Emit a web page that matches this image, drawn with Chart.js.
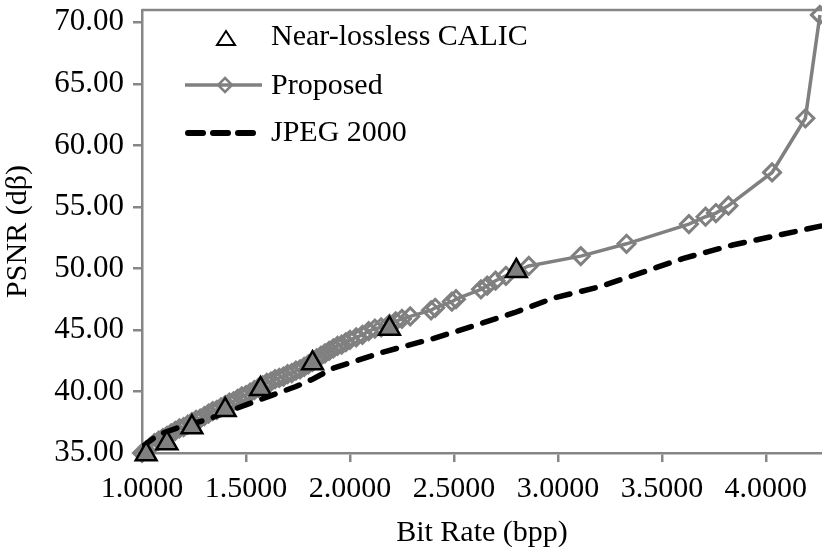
<!DOCTYPE html>
<html>
<head>
<meta charset="utf-8">
<title>PSNR vs Bit Rate</title>
<script src="https://cdn.jsdelivr.net/npm/chart.js@4.4.0/dist/chart.umd.min.js"></script>
<style>
  html, body { margin: 0; padding: 0; background: #fff; }
  #wrap { width: 822px; height: 552px; }
</style>
</head>
<body>
<div id="wrap"><canvas id="psnrChart" width="822" height="552"></canvas></div>
<script>
// DATA

const calicRate = [1.02, 1.12, 1.24, 1.40, 1.57, 1.82, 2.19, 2.80];
const calicPsnr = [34.9, 35.8, 37.1, 38.5, 40.2, 42.3, 45.1, 49.8];

const proposedRate = [1.00, 1.02, 1.04, 1.06, 1.08, 1.10, 1.12, 1.14, 1.16, 1.18,
  1.20, 1.22, 1.24, 1.26, 1.28, 1.30, 1.32, 1.34, 1.36, 1.38,
  1.40, 1.42, 1.44, 1.46, 1.48, 1.50, 1.52, 1.54, 1.56, 1.58,
  1.60, 1.62, 1.64, 1.66, 1.68, 1.70, 1.72, 1.74, 1.76, 1.78,
  1.80, 1.82, 1.84, 1.86, 1.88, 1.90, 1.92, 1.94, 1.96, 1.98,
  2.00, 2.03, 2.06, 2.09, 2.12, 2.15, 2.19, 2.22, 2.25, 2.29,
  2.39, 2.41, 2.49, 2.51, 2.63, 2.66, 2.70, 2.75, 2.86, 3.11,
  3.33, 3.63, 3.71, 3.76, 3.82, 4.03, 4.19, 4.26];
const proposedPsnr = [35.0, 35.2, 35.5, 35.8, 36.0, 36.2, 36.4, 36.6, 36.8, 37.0,
  37.1, 37.3, 37.5, 37.7, 37.8, 38.0, 38.2, 38.4, 38.5, 38.7,
  38.9, 39.1, 39.2, 39.4, 39.6, 39.7, 39.9, 40.1, 40.3, 40.5,
  40.7, 40.8, 41.0, 41.1, 41.2, 41.4, 41.5, 41.7, 41.8, 42.0,
  42.2, 42.4, 42.7, 42.9, 43.1, 43.3, 43.5, 43.7, 43.8, 44.0,
  44.2, 44.4, 44.6, 44.9, 45.1, 45.2, 45.5, 45.7, 45.9, 46.1,
  46.6, 46.8, 47.3, 47.5, 48.3, 48.6, 49.0, 49.4, 50.2, 51.0,
  52.0, 53.6, 54.2, 54.5, 55.1, 57.8, 62.2, 70.6];

const jpegRate = [1.00, 1.08, 1.18, 1.31, 1.45, 1.61, 1.74, 1.82, 1.92, 2.16,
  2.40, 2.59, 2.79, 2.98, 3.20, 3.60, 3.84, 4.28];
const jpegPsnr = [35.5, 36.5, 37.1, 37.7, 38.6, 39.6, 40.4, 41.0, 41.9, 43.2,
  44.3, 45.3, 46.4, 47.6, 48.5, 50.8, 51.9, 53.5];

const xTicks = [1.0, 1.5, 2.0, 2.5, 3.0, 3.5, 4.0];
const yTicks = [35, 40, 45, 50, 55, 60, 65, 70];

const seriesNames = ['Near-lossless CALIC', 'Proposed', 'JPEG 2000'];

function toPoints(xs, ys) {
  return xs.map(function (x, i) { return { x: x, y: ys[i] }; });
}

var AXIS_GREY = '#868686';
var LINE_GREY = '#808080';
var SERIF = "'Liberation Serif', 'Times New Roman', serif";

Chart.defaults.font.family = SERIF;
Chart.defaults.font.size = 30;
Chart.defaults.color = '#000';

// top frame line + hand drawn legend (Excel style)
var frameAndLegend = {
  id: 'frameAndLegend',
  beforeDatasetsDraw: function (chart) {
    var ctx = chart.ctx, a = chart.chartArea;
    ctx.save();
    ctx.strokeStyle = AXIS_GREY;
    ctx.lineWidth = 2.5;
    ctx.beginPath();
    ctx.moveTo(a.left, a.top);
    ctx.lineTo(a.right, a.top);
    ctx.stroke();
    ctx.restore();
  },
  afterDraw: function (chart) {
    var ctx = chart.ctx;
    ctx.save();
    // triangle
    ctx.beginPath();
    ctx.moveTo(226, 31);
    ctx.lineTo(235, 45);
    ctx.lineTo(217, 45);
    ctx.closePath();
    ctx.fillStyle = '#fff';
    ctx.fill();
    ctx.strokeStyle = '#000';
    ctx.lineWidth = 2;
    ctx.stroke();
    // line + diamond
    ctx.strokeStyle = LINE_GREY;
    ctx.lineWidth = 3.5;
    ctx.beginPath();
    ctx.moveTo(185, 85);
    ctx.lineTo(262, 85);
    ctx.stroke();
    ctx.beginPath();
    ctx.moveTo(225, 78);
    ctx.lineTo(232, 85);
    ctx.lineTo(225, 92);
    ctx.lineTo(218, 85);
    ctx.closePath();
    ctx.lineWidth = 2.5;
    ctx.stroke();
    // dashed
    ctx.strokeStyle = '#000';
    ctx.lineWidth = 6;
    ctx.lineCap = 'round';
    ctx.setLineDash([15, 10]);
    ctx.beginPath();
    ctx.moveTo(188, 133);
    ctx.lineTo(253, 133);
    ctx.stroke();
    ctx.setLineDash([]);
    // texts
    ctx.fillStyle = '#000';
    ctx.font = "30px " + SERIF;
    ctx.textAlign = 'left';
    ctx.textBaseline = 'alphabetic';
    ctx.fillText(seriesNames[0], 271, 45);
    ctx.fillText(seriesNames[1], 271, 94);
    ctx.fillText(seriesNames[2], 271, 141);
    ctx.restore();
  }
};

var config = {
  type: 'line',
  data: {
    datasets: [
      {
        label: seriesNames[0],
        data: toPoints(calicRate, calicPsnr),
        showLine: false,
        pointStyle: 'triangle',
        pointRadius: 12,
        pointBackgroundColor: LINE_GREY,
        pointBorderColor: '#000',
        pointBorderWidth: 2.5,
        clip: false,
        order: 0
      },
      {
        label: seriesNames[2],
        data: toPoints(jpegRate, jpegPsnr),
        borderColor: '#000',
        borderWidth: 5.5,
        borderDash: [14, 12],
        borderCapStyle: 'round',
        pointRadius: 0,
        tension: 0,
        order: 1
      },
      {
        label: seriesNames[1],
        data: toPoints(proposedRate, proposedPsnr),
        borderColor: LINE_GREY,
        borderWidth: 3.5,
        pointStyle: 'rectRot',
        pointRadius: 8.5,
        pointBackgroundColor: 'rgba(0,0,0,0)',
        pointBorderColor: LINE_GREY,
        pointBorderWidth: 3,
        tension: 0,
        clip: false,
        order: 2
      }
    ]
  },
  options: {
    responsive: false,
    animation: false,
    layout: { autoPadding: false, padding: { top: 10, right: 0, bottom: 0, left: 0 } },
    plugins: {
      legend: { display: false },
      tooltip: { enabled: false }
    },
    scales: {
      x: {
        type: 'linear',
        min: 1.0,
        max: 4.27,
        afterBuildTicks: function (scale) {
          scale.ticks = xTicks.map(function (v) { return { value: v }; });
        },
        afterFit: function (scale) {
          scale.height = 99;
          scale.paddingLeft = 0;
          scale.paddingRight = 0;
        },
        grid: {
          display: true,
          drawOnChartArea: false,
          drawTicks: true,
          tickLength: 9,
          color: AXIS_GREY,
          lineWidth: 2.5
        },
        border: { display: true, color: AXIS_GREY, width: 2.5 },
        ticks: {
          padding: 9,
          maxRotation: 0,
          autoSkip: false,
          callback: function (v) { return Number(v).toFixed(4); }
        },
        title: {
          display: true,
          text: 'Bit Rate (bpp)',
          padding: { top: 0, bottom: 1 }
        }
      },
      y: {
        type: 'linear',
        min: 35,
        max: 71,
        afterBuildTicks: function (scale) {
          scale.ticks = yTicks.map(function (v) { return { value: v }; });
        },
        afterFit: function (scale) {
          scale.width = 142;
          scale.paddingTop = 0;
          scale.paddingBottom = 0;
        },
        grid: {
          display: true,
          drawOnChartArea: false,
          drawTicks: true,
          tickLength: 9,
          color: AXIS_GREY,
          lineWidth: 2.5
        },
        border: { display: true, color: AXIS_GREY, width: 2.5 },
        ticks: {
          padding: 9,
          autoSkip: false,
          font: { size: 31 },
          callback: function (v) { return Number(v).toFixed(2); }
        },
        title: {
          display: true,
          text: 'PSNR (dβ)',
          padding: { top: 0, bottom: 0 }
        }
      }
    }
  },
  plugins: [frameAndLegend]
};

var psnrChart = new Chart(document.getElementById('psnrChart'), config);
</script>
</body>
</html>
